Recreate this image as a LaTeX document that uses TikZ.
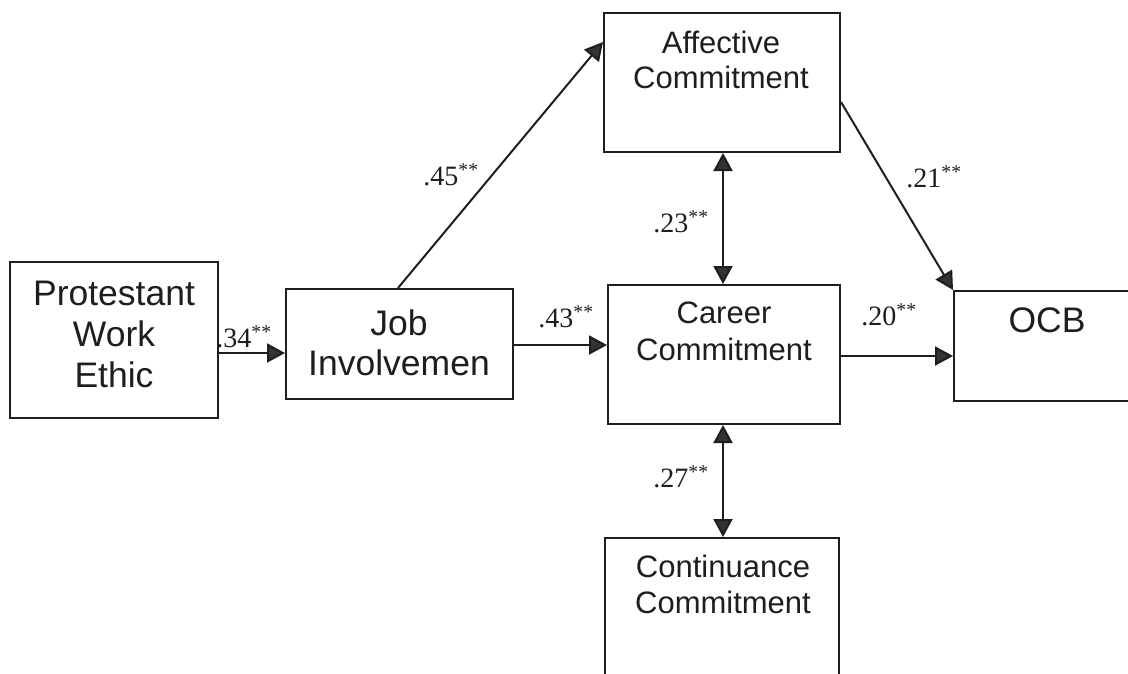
\documentclass[tikz,border=0pt]{standalone}
\usepackage{fontspec}
\setmainfont{Liberation Serif}
\newfontfamily\arialf{Liberation Sans}
\usetikzlibrary{arrows.meta,calc}
\definecolor{ink}{HTML}{1E1E1E}
\definecolor{tip}{HTML}{333333}
\begin{document}
\begin{tikzpicture}[x=1pt,y=-1pt,
  box/.style={draw=ink,line width=2pt,inner sep=0pt,fill=white},
  btext/.style={text=ink,align=center,anchor=base,font=\arialf\fontsize{31}{37}\selectfont,inner sep=0pt},
  bigtext/.style={btext,font=\arialf\fontsize{35.5}{41}\selectfont},
  coef/.style={text=ink,font=\fontsize{28}{30}\selectfont,inner sep=0pt},
  arr/.style={draw=ink,line width=2pt,-{Triangle[length=18pt,width=19pt,fill=tip]}},
  darr/.style={draw=ink,line width=2pt,{Triangle[length=18pt,width=19pt,fill=tip]}-{Triangle[length=18pt,width=19pt,fill=tip]}}]
\useasboundingbox (0,0) rectangle (1128,673);
\clip (0,0) rectangle (1128,673);
\fill[white] (0,0) rectangle (1128,673);
% boxes
\node[box,minimum width=208pt,minimum height=156pt] (pwe) at (114,340) {};
\node[box,minimum width=227pt,minimum height=110pt] (job) at (399.5,344) {};
\node[box,minimum width=236pt,minimum height=139pt] (aff) at (722,82.5) {};
\node[box,minimum width=232pt,minimum height=139pt] (car) at (724,354.5) {};
\node[box,minimum width=186pt,minimum height=110pt] (ocb) at (1047,346) {};
\node[box,minimum width=234pt,minimum height=162pt] (con) at (722,619) {};
% texts (anchor base = last line's baseline)
\node[bigtext] (pweT) at (114,387) {Protestant\\Work\\Ethic};
\node[bigtext,font=\arialf\fontsize{35.5}{40}\selectfont] (jobT) at (399,375) {Job\\Involvemen};
\node[btext,font=\arialf\fontsize{31}{35}\selectfont] (affT) at (721,88) {Affective\\Commitment};
\node[btext] (carT) at (724,360) {Career\\Commitment};
\node[bigtext] (ocbT) at (1047,332) {OCB};
\node[btext,font=\arialf\fontsize{31}{36}\selectfont] (conT) at (723,613) {Continuance\\Commitment};
% connectors
\draw[arr] (pwe.east |- 0,353) -- (job.west |- 0,353);
\draw[arr] (job.east |- 0,345) -- (car.west |- 0,345);
\draw[arr] (car.east |- 0,356) -- (ocb.west |- 0,356);
\draw[arr] (job.north -| 398,0) -- (aff.west |- 0,42);
\draw[arr] (aff.east |- 0,102) -- (ocb.north west);
\draw[darr] (aff.south -| 723,0) -- (car.north -| 723,0);
\draw[darr] (car.south -| 723,0) -- (con.north -| 723,0);
% coefficients
\node[coef] (c34) at (244,337) {.34\textsuperscript{**}};
\node[coef] (c43) at (566,317) {.43\textsuperscript{**}};
\node[coef] (c45) at (451,175) {.45\textsuperscript{**}};
\node[coef] (c21) at (934,177) {.21\textsuperscript{**}};
\node[coef] (c20) at (889,315) {.20\textsuperscript{**}};
\node[coef] (c23) at (681,222) {.23\textsuperscript{**}};
\node[coef] (c27) at (681,477) {.27\textsuperscript{**}};
\end{tikzpicture}
\end{document}
